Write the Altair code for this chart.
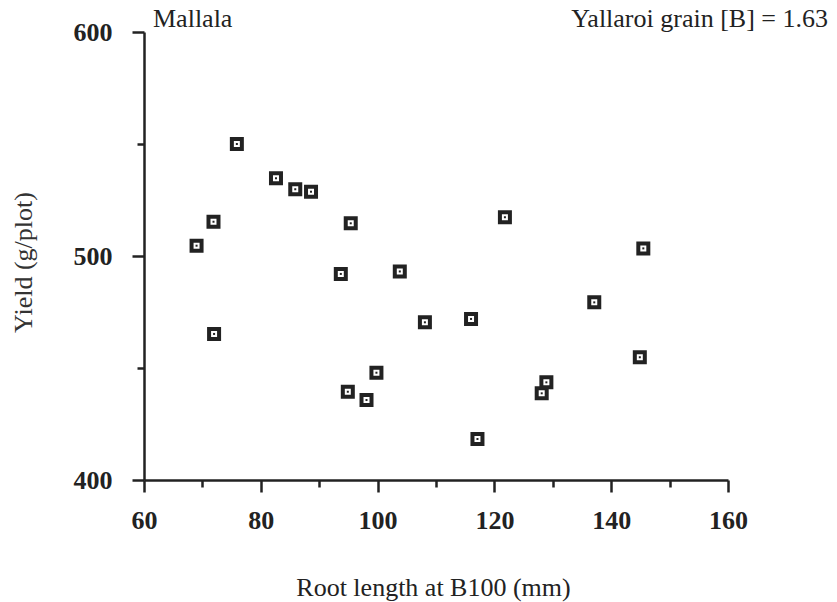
import altair as alt
import pandas as pd

# Data
root_length = [69.0, 71.9, 72.0, 75.9, 82.6, 85.9, 88.6, 93.7, 95.4, 94.9, 98.1,
               99.8, 103.8, 108.1, 116.0, 117.1, 121.8, 128.1, 128.9, 137.1, 144.9, 145.5]
yield_gplot = [504.6, 515.3, 465.2, 550.0, 534.7, 529.8, 528.7, 492.0, 514.6, 439.4, 435.7,
               447.9, 493.1, 470.4, 471.9, 418.3, 517.3, 438.7, 443.6, 479.3, 454.8, 503.4]
x_ticks = [60, 70, 80, 90, 100, 110, 120, 130, 140, 150, 160]
y_ticks = [400, 450, 500, 550, 600]
site_label = ["Mallala"]
grain_label = ["Yallaroi grain [B] = 1.63"]
x_title = "Root length at B100 (mm)"
y_title = "Yield (g/plot)"

df = pd.DataFrame({"x": root_length, "y": yield_gplot})

FONT = "Liberation Serif"
INK = "#222222"
W, H = 584, 448

x_axis = alt.Axis(
    values=x_ticks,
    labelExpr="datum.value % 20 == 0 ? datum.label : ''",
    tickSize={"condition": {"test": "datum.value % 20 == 0", "value": 12}, "value": 7},
    tickWidth=2.5, tickColor=INK,
    domainWidth=2.5, domainColor=INK,
    grid=False,
    labelFont=FONT, labelFontSize=26, labelFontWeight="bold", labelColor=INK,
    labelPadding=15, labelFlush=False,
    title=x_title, titleFont=FONT, titleFontSize=26, titleFontWeight="normal",
    titleColor=INK, titleX=W / 2 - 3, titleY=115, titleBaseline="alphabetic",
    titleAnchor="middle", titleAlign="center",
)
y_axis = alt.Axis(
    values=y_ticks,
    labelExpr="datum.value % 100 == 0 ? datum.label : ''",
    tickSize={"condition": {"test": "datum.value % 100 == 0", "value": 12}, "value": 7},
    tickWidth=2.5, tickColor=INK,
    domainWidth=2.5, domainColor=INK,
    grid=False,
    labelFont=FONT, labelFontSize=26, labelFontWeight="bold", labelColor=INK,
    labelPadding=20, labelFlush=False, labelBaseline="middle",
    title=y_title, titleFont=FONT, titleFontSize=26, titleFontWeight="normal",
    titleColor="#333333", titleX=-113, titleY=230, titleAngle=-90,
    titleBaseline="alphabetic", titleAlign="center", titleAnchor="middle",
)

xs = alt.Scale(domain=[60, 160], nice=False, zero=False)
ys = alt.Scale(domain=[400, 600], nice=False, zero=False)

base = alt.Chart(df)
outer = base.mark_point(shape="square", filled=False, size=100, strokeWidth=4,
                        color=INK, opacity=1).encode(
    x=alt.X("x:Q", scale=xs, axis=x_axis),
    y=alt.Y("y:Q", scale=ys, axis=y_axis),
)
dot = base.mark_point(shape="square", filled=True, size=4, color=INK, opacity=1).encode(
    x=alt.X("x:Q", scale=xs),
    y=alt.Y("y:Q", scale=ys),
)

left_txt = alt.Chart(pd.DataFrame({"t": site_label})).mark_text(
    font=FONT, fontSize=26, color=INK, align="left", baseline="alphabetic"
).encode(text="t:N", x=alt.value(9), y=alt.value(-5))

right_txt = alt.Chart(pd.DataFrame({"t": grain_label})).mark_text(
    font=FONT, fontSize=26, color=INK, align="right", baseline="alphabetic"
).encode(text="t:N", x=alt.value(684), y=alt.value(-5))

chart = alt.layer(outer, dot, left_txt, right_txt).properties(
    width=W, height=H,
    autosize=alt.AutoSizeParams(type="none"),
    padding={"left": 144, "top": 32, "right": 109, "bottom": 122},
    background="white",
).configure_view(stroke=None)

chart.save("out.html", embed_options={"renderer": "svg", "actions": False})
